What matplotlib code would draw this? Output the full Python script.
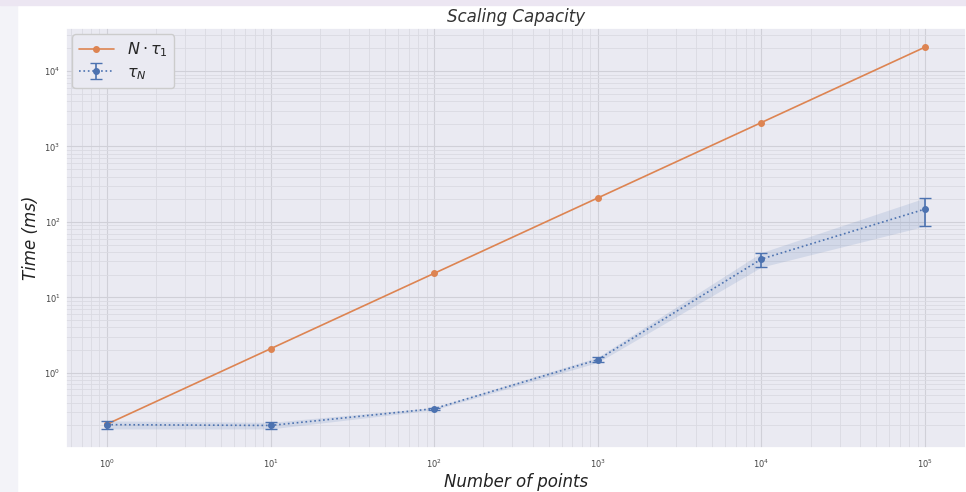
import numpy as np
import matplotlib.pyplot as plt
import seaborn as sns
from matplotlib.patches import Rectangle

sns.set_theme(style="darkgrid", palette="deep")
plt.rcParams['font.family'] = ['DejaVu Sans']

n_points = [1, 10, 100, 1000, 10000, 100000]
linear_time = [0.208, 2.08, 20.8, 208, 2080, 20800]
tau_mean = [0.205, 0.200, 0.334, 1.49, 32.2, 148]
tau_std = [0.025, 0.02, 0.012, 0.12, 7.0, 60]

mean = np.array(tau_mean)
std = np.array(tau_std)

fig = plt.figure(figsize=(9.66, 4.92), dpi=100)
fig.patch.set_facecolor('white')
# screenshot border
fig.patches.append(Rectangle((0, 0), 17/966, 1, transform=fig.transFigure,
                             color='#f3f3f8', zorder=-10))
fig.patches.append(Rectangle((0, 1 - 5/492), 1, 5/492, transform=fig.transFigure,
                             color='#ece6f2', zorder=-10))

ax = fig.add_axes([66/966, 44/492, 1 - 66/966, 420/492])
ax.set_xscale('log')
ax.set_yscale('log')

ax.plot(n_points, linear_time, marker='o', markersize=4, color='#DD8452',
        lw=1.2, label=r'$N \cdot \tau_1$')
ax.errorbar(n_points, tau_mean, yerr=tau_std, marker='o', markersize=4,
            color='#4C72B0', ls=':', lw=1.2, capsize=4, label=r'$\tau_N$')
ax.fill_between(n_points, mean - std, mean + std, color='#4C72B0', alpha=0.15,
                lw=0)

ax.grid(True, which='major', color='#d0d0d8', lw=0.8)
ax.grid(True, which='minor', color='#dadae2', lw=0.6)
ax.tick_params(axis='x', which='major', labelsize=6, labelcolor='#444444', pad=1)
ax.tick_params(axis='y', which='major', labelsize=6, labelcolor='#444444', pad=-2)

ax.set_title('Scaling Capacity', fontsize=12, style='italic', color='#333333', pad=4)
ax.set_xlabel('Number of points', fontsize=12, style='italic', color='#222222',
              labelpad=2)
ax.set_ylabel('Time (ms)', fontsize=12, style='italic', color='#222222', labelpad=3)
ax.legend(loc='upper left', fontsize=11.5, facecolor='#eaeaf2', framealpha=1,
          handlelength=2.2, borderaxespad=0.4, labelspacing=0.35)

fig.savefig('out.png', dpi=100)
